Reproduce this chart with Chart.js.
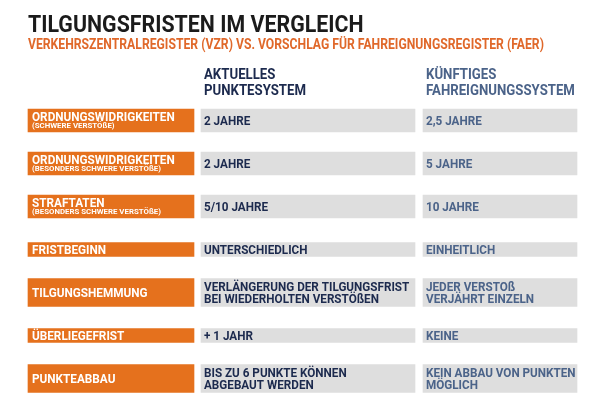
<!DOCTYPE html>
<html lang="de">
<head>
<meta charset="utf-8">
<title>Tilgungsfristen im Vergleich</title>
<script src="https://cdn.jsdelivr.net/npm/chart.js@4.4.1/dist/chart.umd.min.js"></script>
<style>
    html, body { margin: 0; padding: 0; background: #ffffff; }
    #wrap { width: 600px; height: 400px; }
</style>
</head>
<body>
<div id="wrap"><canvas id="tabelle" width="600" height="400"></canvas></div>
<script>
// Texte der Grafik
var titel = 'TILGUNGSFRISTEN IM VERGLEICH';
var untertitel = 'VERKEHRSZENTRALREGISTER (VZR) VS. VORSCHLAG FÜR FAHREIGNUNGSREGISTER (FAER)';
var spaltenKoepfe = [['AKTUELLES', 'PUNKTESYSTEM'], ['KÜNFTIGES', 'FAHREIGNUNGSSYSTEM']];

var zeilen = ['ORDNUNGSWIDRIGKEITEN', 'ORDNUNGSWIDRIGKEITEN', 'STRAFTATEN', 'FRISTBEGINN',
              'TILGUNGSHEMMUNG', 'ÜBERLIEGEFRIST', 'PUNKTEABBAU'];
var zeilenHinweis = ['(SCHWERE VERSTÖßE)', '(BESONDERS SCHWERE VERSTÖßE)', '(BESONDERS SCHWERE VERSTÖßE)',
                     '', '', '', ''];
var aktuell = ['2 JAHRE', '2 JAHRE', '5/10 JAHRE', 'UNTERSCHIEDLICH',
               ['VERLÄNGERUNG DER TILGUNGSFRIST', 'BEI WIEDERHOLTEN VERSTÖßEN'], '+ 1 JAHR',
               ['BIS ZU 6 PUNKTE KÖNNEN', 'ABGEBAUT WERDEN']];
var kuenftig = ['2,5 JAHRE', '5 JAHRE', '10 JAHRE', 'EINHEITLICH',
                ['JEDER VERSTOß', 'VERJÄHRT EINZELN'], 'KEINE',
                ['KEIN ABBAU VON PUNKTEN', 'MÖGLICH']];

// Layout (Einheiten der x-Achse = Pixel)
var spalten = [
    { von: 28, bis: 194, farbe: '#e5711d' },
    { von: 201, bis: 415, farbe: '#dedede' },
    { von: 423, bis: 577, farbe: '#dedede' }
];
var hoehen = { einfach: 14, hinweis: 23, zweizeilig: 28 };
var schrift = 'Roboto, "Liberation Sans", sans-serif';

function zeilenArt(i) {
    if (zeilenHinweis[i]) return 'hinweis';
    if (Array.isArray(aktuell[i]) || Array.isArray(kuenftig[i])) return 'zweizeilig';
    return 'einfach';
}

var datasets = [];
spalten.forEach(function(sp) {
    Object.keys(hoehen).forEach(function(art) {
        datasets.push({
            data: zeilen.map(function(z, i) {
                return zeilenArt(i) === art ? [sp.von, sp.bis] : null;
            }),
            backgroundColor: sp.farbe,
            borderWidth: 0,
            borderSkipped: false,
            barThickness: hoehen[art],
            grouped: false
        });
    });
});

// Text etwas schmaler setzen (DIN-artig)
function schreibe(ctx, text, x, y, font, farbe, faktor) {
    ctx.font = font;
    ctx.fillStyle = farbe;
    var w = ctx.measureText(text).width;
    ctx.fillText(text, x, y, w * faktor);
}

function zelle(ctx, text, x, mitte, farbe) {
    var f = 'bold 13px ' + schrift;
    if (Array.isArray(text)) {
        schreibe(ctx, text[0], x, mitte - 1.5, f, farbe, 0.9);
        schreibe(ctx, text[1], x, mitte + 10, f, farbe, 0.9);
    } else {
        schreibe(ctx, text, x, mitte + 4.5, f, farbe, 0.9);
    }
}

var textPlugin = {
    id: 'texte',
    afterDatasetsDraw: function(chart) {
        var ctx = chart.ctx;
        var xs = chart.scales.x, ys = chart.scales.y;
        ctx.save();
        ctx.textBaseline = 'alphabetic';
        ctx.textAlign = 'left';

        schreibe(ctx, titel, xs.getPixelForValue(28), 32, 'bold 24px ' + schrift, '#1b1b1b', 0.89);
        schreibe(ctx, untertitel, xs.getPixelForValue(28), 49, 'bold 14px ' + schrift, '#e0682a', 0.87);

        spaltenKoepfe.forEach(function(kopf, k) {
            var x = xs.getPixelForValue(spalten[k + 1].von) + 3;
            var farbe = k === 0 ? '#1c2a4e' : '#4b6389';
            schreibe(ctx, kopf[0], x, 79, 'bold 15px ' + schrift, farbe, 0.88);
            schreibe(ctx, kopf[1], x, 95, 'bold 15px ' + schrift, farbe, 0.88);
        });

        zeilen.forEach(function(z, i) {
            var mitte = ys.getPixelForValue(i);
            var xl = xs.getPixelForValue(spalten[0].von) + 4;
            if (zeilenHinweis[i]) {
                schreibe(ctx, z, xl, mitte, 'bold 12.5px ' + schrift, '#ffffff', 0.94);
                schreibe(ctx, zeilenHinweis[i], xl, mitte + 7.5, 'bold 8px ' + schrift, '#ffffff', 0.98);
            } else {
                schreibe(ctx, z, xl, mitte + 4.5, 'bold 12.5px ' + schrift, '#ffffff', 0.94);
            }
            zelle(ctx, aktuell[i], xs.getPixelForValue(spalten[1].von) + 3, mitte, '#1c2a4e');
            zelle(ctx, kuenftig[i], xs.getPixelForValue(spalten[2].von) + 3, mitte, '#4b6389');
        });
        ctx.restore();
    }
};

new Chart(document.getElementById('tabelle').getContext('2d'), {
    type: 'bar',
    data: { labels: zeilen, datasets: datasets },
    options: {
        indexAxis: 'y',
        responsive: false,
        animation: false,
        layout: { padding: { top: 99, left: 0, right: 0, bottom: 0 } },
        plugins: { legend: { display: false }, tooltip: { enabled: false }, title: { display: false } },
        scales: {
            x: { type: 'linear', min: 0, max: 600, display: false },
            y: { type: 'category', display: false, offset: true }
        }
    },
    plugins: [textPlugin]
});
</script>
</body>
</html>
